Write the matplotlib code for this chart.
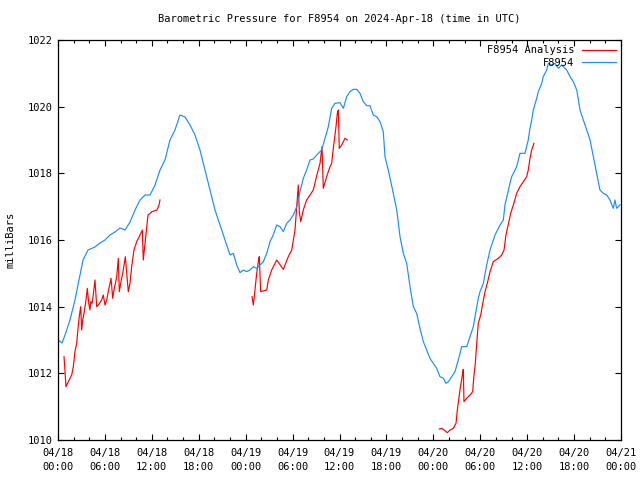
import matplotlib
matplotlib.use('Agg')
import matplotlib.pyplot as plt
import matplotlib.dates as mdates
from matplotlib.ticker import MultipleLocator
import pandas as pd

plt.rcParams['font.family'] = ['DejaVu Sans Mono']
plt.rcParams['font.size'] = 7

START = pd.Timestamp('2024-04-18 00:00')

# F8954 station pressure: hours since 04/18 00:00 UTC, millibars
station_hours = [
    0.0, 0.51, 0.90, 1.53, 2.17, 2.81, 3.20, 3.84, 4.73, 5.37, 6.01, 6.65, 7.29, 7.93,
    8.57, 9.21, 9.85, 10.49, 11.13, 11.77, 12.41, 13.05, 13.68, 14.32, 14.96, 15.60,
    16.24, 16.88, 17.52, 18.16, 18.80, 19.44, 20.08, 20.72, 21.36, 22.00, 22.42, 22.85,
    23.28, 23.70, 24.13, 24.55, 24.98, 25.41, 25.83, 26.26, 26.69, 27.11, 27.53, 27.97,
    28.39, 28.81, 29.25, 29.67, 30.09, 30.53, 30.95, 31.37, 31.80, 32.23, 32.65, 33.08,
    33.72, 34.15, 34.57, 35.00, 35.42, 36.06, 36.49, 36.92, 37.34, 37.77, 38.20, 38.62,
    39.04, 39.48, 39.90, 40.32, 40.76, 41.18, 41.60, 41.82, 42.24, 42.88, 43.32, 43.74,
    44.16, 44.59, 45.02, 45.44, 45.87, 46.29, 46.72, 47.15, 47.57, 47.99, 48.43, 48.85,
    49.28, 49.62, 49.92, 50.35, 50.77, 51.19, 51.63, 52.27, 52.69, 53.11, 53.33, 53.75,
    53.97, 54.39, 54.82, 55.25, 55.89, 56.53, 56.95, 57.16, 57.80, 58.02, 58.66, 59.08,
    59.72, 60.14, 60.36, 60.58, 60.78, 61.22, 61.42, 61.86, 62.06, 62.50, 62.70, 63.14,
    63.56, 63.98, 64.42, 65.06, 65.48, 65.90, 66.34, 66.76, 67.18, 67.62, 68.04, 68.46,
    68.89, 69.31, 69.74, 70.17, 70.59, 71.01, 71.23, 71.44, 71.87,
]
station_mb = [
    1013.0, 1012.91, 1013.15, 1013.6, 1014.2, 1014.95, 1015.4, 1015.7, 1015.79, 1015.91,
    1016.0, 1016.15, 1016.24, 1016.36, 1016.3, 1016.54, 1016.9, 1017.2, 1017.35, 1017.35,
    1017.65, 1018.1, 1018.4, 1019.0, 1019.3, 1019.75, 1019.69, 1019.45, 1019.15, 1018.7,
    1018.1, 1017.5, 1016.9, 1016.45, 1016.0, 1015.55, 1015.6, 1015.25, 1015.02, 1015.1,
    1015.05, 1015.1, 1015.2, 1015.15, 1015.25, 1015.35, 1015.6, 1015.95, 1016.15, 1016.45,
    1016.4, 1016.25, 1016.5, 1016.6, 1016.75, 1017.0, 1017.45, 1017.85, 1018.1, 1018.4,
    1018.43, 1018.55, 1018.7, 1019.05, 1019.4, 1019.95, 1020.1, 1020.12, 1019.95, 1020.3,
    1020.45, 1020.52, 1020.52, 1020.4, 1020.15, 1020.03, 1020.03, 1019.75, 1019.7, 1019.55,
    1019.25, 1018.5, 1018.1, 1017.4, 1016.9, 1016.1, 1015.6, 1015.3, 1014.6, 1014.0,
    1013.8, 1013.35, 1012.95, 1012.7, 1012.45, 1012.3, 1012.15, 1011.9, 1011.85, 1011.7,
    1011.75, 1011.9, 1012.05, 1012.4, 1012.8, 1012.8, 1013.1, 1013.4, 1013.7, 1014.25,
    1014.45, 1014.7, 1015.25, 1015.7, 1016.15, 1016.45, 1016.6, 1017.05, 1017.7, 1017.9,
    1018.2, 1018.6, 1018.6, 1019.0, 1019.35, 1019.6, 1019.9, 1020.25, 1020.45, 1020.7,
    1020.9, 1021.1, 1021.3, 1021.25, 1021.3, 1021.15, 1021.25, 1021.1, 1020.9, 1020.75,
    1020.5, 1019.9, 1019.6, 1019.3, 1019.0, 1018.5, 1018.0, 1017.5, 1017.4, 1017.35,
    1017.2, 1016.95, 1017.2, 1016.95, 1017.05,
]

# F8954 analysis, three runs
analysis1_hours = [
    0.77, 0.90, 1.02, 1.32, 1.75, 1.96, 2.17, 2.39, 2.60, 2.72, 2.90, 3.03, 3.16, 3.36,
    3.58, 3.75, 3.93, 4.09, 4.18, 4.35, 4.51, 4.73, 4.95, 5.15, 5.59, 5.79, 6.01, 6.23,
    6.43, 6.65, 6.78, 7.00, 7.16, 7.51, 7.71, 7.84, 8.02, 8.35, 8.61, 8.79, 8.99, 9.21,
    9.42, 9.72, 10.06, 10.49, 10.78, 10.91, 11.13, 11.51, 12.02, 12.66, 12.92, 13.04,
]
analysis1_mb = [
    1012.5, 1012.05, 1011.6, 1011.75, 1011.95, 1012.2, 1012.65, 1012.9, 1013.45, 1013.7,
    1014.0, 1013.3, 1013.6, 1013.85, 1014.2, 1014.55, 1014.1, 1013.9, 1014.15, 1014.1,
    1014.35, 1014.8, 1014.0, 1014.05, 1014.2, 1014.35, 1014.05, 1014.2, 1014.45, 1014.7,
    1014.85, 1014.25, 1014.5, 1014.9, 1015.45, 1014.45, 1014.7, 1015.1, 1015.5, 1015.0,
    1014.45, 1014.7, 1015.2, 1015.7, 1015.95, 1016.15, 1016.3, 1015.4, 1015.9, 1016.75,
    1016.85, 1016.9, 1017.05, 1017.2,
]
analysis2_hours = [
    24.81, 24.98, 25.19, 25.41, 25.62, 25.74, 25.92, 26.69, 26.90, 27.33, 27.97, 28.81,
    29.45, 29.89, 30.31, 30.53, 30.73, 30.86, 31.04, 31.37, 31.80, 32.23, 32.65, 33.16,
    33.51, 33.76, 33.93, 34.36, 34.78, 35.00, 35.21, 35.55, 35.72, 35.85, 35.97, 36.28,
    36.70, 37.00,
]
analysis2_mb = [
    1014.3, 1014.05, 1014.5, 1015.0, 1015.35, 1015.5, 1014.45, 1014.5, 1014.8, 1015.1,
    1015.4, 1015.12, 1015.5, 1015.7, 1016.3, 1017.0, 1017.65, 1016.85, 1016.55, 1016.9,
    1017.2, 1017.35, 1017.5, 1018.0, 1018.3, 1018.8, 1017.55, 1017.9, 1018.2, 1018.3,
    1018.75, 1019.4, 1019.8, 1019.9, 1018.75, 1018.85, 1019.05, 1019.0,
]
analysis3_hours = [
    48.76, 49.07, 49.49, 49.79, 50.13, 50.55, 50.90, 51.07, 51.32, 51.54, 51.75, 51.83,
    51.92, 52.27, 52.69, 53.03, 53.20, 53.37, 53.55, 53.75, 54.06, 54.32, 54.61, 54.90,
    55.25, 55.67, 56.31, 56.74, 57.04, 57.29, 57.71, 57.89, 58.23, 58.66, 59.08, 59.51,
    59.94, 60.14, 60.36, 60.58, 60.87,
]
analysis3_mb = [
    1010.33, 1010.35, 1010.28, 1010.22, 1010.3, 1010.35, 1010.5, 1010.9, 1011.35, 1011.7,
    1012.0, 1012.12, 1011.15, 1011.25, 1011.35, 1011.45, 1011.95, 1012.3, 1012.9, 1013.5,
    1013.75, 1014.1, 1014.45, 1014.7, 1015.05, 1015.35, 1015.45, 1015.55, 1015.7, 1016.15,
    1016.6, 1016.8, 1017.05, 1017.4, 1017.6, 1017.75, 1017.9, 1018.1, 1018.45, 1018.7,
    1018.9,
]


def to_time(hours):
    return START + pd.to_timedelta(hours, unit='h')


fig = plt.figure(figsize=(6.4, 4.8), dpi=100)
ax = fig.add_axes([58 / 640, 40 / 480, 563 / 640, 400 / 480])

RED = '#ff0000'
BLUE = '#1a8cff'

ax.plot(to_time(analysis1_hours), analysis1_mb, color=RED, lw=0.85, label='F8954 Analysis')
ax.plot(to_time(analysis2_hours), analysis2_mb, color=RED, lw=0.85)
ax.plot(to_time(analysis3_hours), analysis3_mb, color=RED, lw=0.85)
ax.plot(to_time(station_hours), station_mb, color=BLUE, lw=0.85, label='F8954')

ax.set_xlim(START, START + pd.Timedelta(hours=72))
ax.set_ylim(1010, 1022)

ax.xaxis.set_major_locator(mdates.HourLocator(byhour=[0, 6, 12, 18]))
ax.xaxis.set_minor_locator(mdates.HourLocator(byhour=range(0, 24, 2)))
ax.xaxis.set_major_formatter(mdates.DateFormatter('%m/%d\n%H:%M'))
ax.yaxis.set_major_locator(MultipleLocator(2))

ax.tick_params(which='both', direction='in', top=True, right=True, width=0.8, labelsize=7.5)
ax.tick_params(which='major', length=4, pad=4)
ax.tick_params(axis='x', which='major', pad=6)
ax.tick_params(which='minor', length=2)
for lbl in ax.get_xticklabels():
    lbl.set_linespacing(1.5)
for s in ax.spines.values():
    s.set_linewidth(0.9)

fig.text(11 / 640, 0.5, 'milliBars', rotation=90, ha='center', va='center', fontsize=7.5)
fig.text(339 / 640, 1 - 19 / 480, 'Barometric Pressure for F8954 on 2024-Apr-18 (time in UTC)',
         ha='center', va='center', fontsize=7.5)

ax.legend(loc='upper right', frameon=False, markerfirst=False, fontsize=7.5,
          handlelength=3.2, handletextpad=0.8, labelspacing=0.25,
          borderaxespad=0.2, borderpad=0.3)

fig.savefig('out.png', dpi=100, facecolor='white')
